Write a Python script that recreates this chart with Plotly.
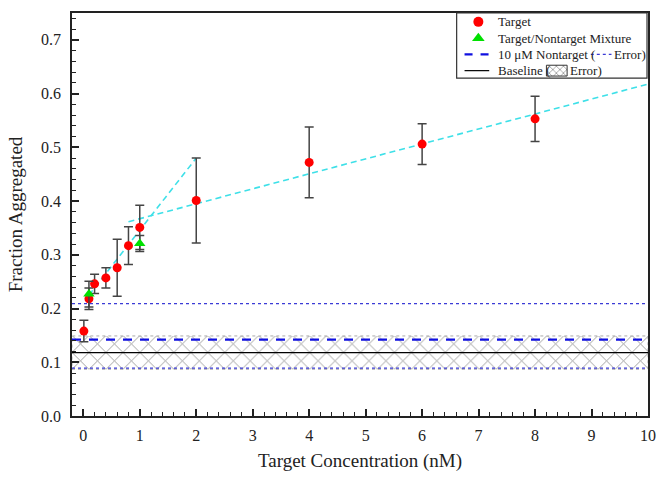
import plotly.graph_objects as go

# ---- data ----
target_x = [0.01, 0.1, 0.2, 0.4, 0.6, 0.8, 1, 2, 4, 6, 8]
target_y = [0.158, 0.218, 0.246, 0.257, 0.276, 0.317, 0.351, 0.401, 0.472, 0.506, 0.553]
target_err = [0.02, 0.02, 0.018, 0.019, 0.053, 0.035, 0.041, 0.079, 0.066, 0.038, 0.042]

mix_x = [0.1, 1]
mix_y = [0.227, 0.321]
mix_err = [0.024, 0.015]

nontarget_level = 0.142
nontarget_err_lo = 0.089
nontarget_err_hi = 0.209

baseline_level = 0.118
baseline_err = 0.031

fit1_x = [0.1, 2]
fit1_y = [0.225, 0.48]
fit2_x = [0.8, 10]
fit2_y = [0.3616, 0.6177]

x_span = [-0.2, 10]
y_span = [0, 0.75]

legend_labels = ["Target", "Target/Nontarget Mixture",
                 "10 μM Nontarget (", "Error)", "Baseline (", "Error)"]

SERIF = "Liberation Serif, Times New Roman, serif"

W, H = 665, 477
ML, MR, MT, MB = 72, 9, 13, 55
PW, PH = W - ML - MR, H - MT - MB


def pu(px):  # pixel x -> paper x
    return (px - ML) / PW


def pv(py):  # pixel y -> paper y
    return (H - MB - py) / PH


fig = go.Figure()

# baseline error band (cross-hatched)
fig.add_trace(go.Scatter(
    x=[x_span[0], x_span[1], x_span[1], x_span[0], x_span[0]],
    y=[baseline_level - baseline_err, baseline_level - baseline_err,
       baseline_level + baseline_err, baseline_level + baseline_err,
       baseline_level - baseline_err],
    mode="lines", fill="toself", fillcolor="rgba(0,0,0,0)",
    line=dict(color="rgba(150,150,150,0.8)", width=1, dash="dot"),
    fillpattern=dict(shape="x", fgcolor="#1a1a1a", bgcolor="rgba(255,255,255,0)",
                     size=12, solidity=0.13),
    showlegend=False, hoverinfo="skip"))

# nontarget error lines (dotted)
for lvl in [nontarget_err_lo, nontarget_err_hi]:
    fig.add_trace(go.Scatter(
        x=x_span, y=[lvl, lvl], mode="lines",
        line=dict(color="#3b3bd6", width=1.2, dash="dot"),
        showlegend=False, hoverinfo="skip"))

# baseline line
fig.add_trace(go.Scatter(
    x=x_span, y=[baseline_level, baseline_level], mode="lines",
    line=dict(color="black", width=1.2), showlegend=False, hoverinfo="skip"))

# nontarget dashed line
fig.add_trace(go.Scatter(
    x=x_span, y=[nontarget_level, nontarget_level], mode="lines",
    line=dict(color="#1010e0", width=2.2, dash="9px,8px"),
    showlegend=False, hoverinfo="skip"))

# fit lines (cyan dashed)
for fx, fy in [(fit1_x, fit1_y), (fit2_x, fit2_y)]:
    fig.add_trace(go.Scatter(
        x=fx, y=fy, mode="lines",
        line=dict(color="#3ee0e8", width=1.6, dash="6px,4px"),
        showlegend=False, hoverinfo="skip"))

# target points
fig.add_trace(go.Scatter(
    x=target_x, y=target_y, mode="markers",
    marker=dict(color="#ff0000", size=9, symbol="circle"),
    error_y=dict(type="data", array=target_err, color="#444444", thickness=1.5, width=4.5),
    showlegend=False))

# mixture points
fig.add_trace(go.Scatter(
    x=mix_x, y=mix_y, mode="markers",
    marker=dict(color="#00e000", size=10, symbol="triangle-up"),
    error_y=dict(type="data", array=mix_err, color="#444444", thickness=1.5, width=4.5),
    showlegend=False))

# ---- custom legend (on an overlay axis in paper units) ----
rows = [22, 38.5, 55, 71.5]
sym_x0, sym_x1, sym_c = 470, 495, 484
text_x = 502

leg = dict(xaxis="x2", yaxis="y2", showlegend=False, hoverinfo="skip", cliponaxis=False)
fig.add_trace(go.Scatter(x=[pu(sym_c)], y=[pv(rows[0])], mode="markers",
                         marker=dict(color="#ff0000", size=10), **leg))
fig.add_trace(go.Scatter(x=[pu(sym_c)], y=[pv(rows[1])], mode="markers",
                         marker=dict(color="#00e000", size=11, symbol="triangle-up"), **leg))
fig.add_trace(go.Scatter(x=[pu(sym_x0), pu(sym_x1)], y=[pv(rows[2])] * 2, mode="lines",
                         line=dict(color="#1010e0", width=2.2, dash="8px,8px"), **leg))
fig.add_trace(go.Scatter(x=[pu(598), pu(619)], y=[pv(rows[2])] * 2, mode="lines",
                         line=dict(color="#3b3bd6", width=1.1, dash="dot"), **leg))
fig.add_trace(go.Scatter(x=[pu(sym_x0), pu(sym_x1)], y=[pv(rows[3])] * 2, mode="lines",
                         line=dict(color="black", width=1.2), **leg))
bx0, bx1, by0, by1 = 553, 574, 66, 77
fig.add_trace(go.Scatter(
    x=[pu(bx0), pu(bx1), pu(bx1), pu(bx0), pu(bx0)],
    y=[pv(by0), pv(by0), pv(by1), pv(by1), pv(by0)],
    mode="lines", fill="toself", fillcolor="rgba(0,0,0,0)",
    line=dict(color="#333333", width=1),
    fillpattern=dict(shape="x", fgcolor="#333333", bgcolor="white", size=5, solidity=0.3),
    **leg))

ann_font = dict(family=SERIF, size=13, color="#222222")
ann_pos = [(text_x, rows[0]), (text_x, rows[1]), (text_x, rows[2]),
           (620, rows[2]), (text_x, rows[3]), (575, rows[3])]
annotations = [
    dict(x=pu(ax), y=pv(ay), xref="paper", yref="paper", text=t, showarrow=False,
         xanchor="left", yanchor="middle", font=ann_font)
    for t, (ax, ay) in zip(legend_labels, ann_pos)
]

fig.update_layout(
    width=W, height=H,
    margin=dict(l=ML, r=MR, t=MT, b=MB),
    paper_bgcolor="white", plot_bgcolor="white",
    font=dict(family=SERIF, color="#222222", size=14),
    showlegend=False,
    annotations=annotations,
    shapes=[dict(type="rect", xref="paper", yref="paper",
                 x0=pu(462), x1=pu(655), y0=pv(79), y1=pv(13),
                 line=dict(color="#333333", width=1.2), fillcolor="rgba(0,0,0,0)",
                 layer="above")],
    xaxis2=dict(overlaying="x", range=[0, 1], visible=False, fixedrange=True),
    yaxis2=dict(overlaying="y", range=[0, 1], visible=False, fixedrange=True),
    xaxis=dict(
        range=x_span, tickmode="linear", tick0=0, dtick=1,
        ticks="inside", ticklen=7, tickwidth=1.5, tickcolor="#222222",
        minor=dict(ticks="inside", ticklen=4, dtick=0.2, tick0=0, tickcolor="#222222", tickwidth=1.2),
        showline=True, linecolor="#222222", linewidth=1.5, mirror=True,
        showgrid=False, zeroline=False, ticklabelstandoff=4,
        tickfont=dict(family=SERIF, size=16),
        title=dict(text="Target Concentration (nM)", font=dict(family=SERIF, size=19), standoff=11),
    ),
    yaxis=dict(
        range=y_span, tickmode="linear", tick0=0, dtick=0.1, tickformat=".1f",
        ticks="inside", ticklen=7, tickwidth=1.5, tickcolor="#222222",
        minor=dict(ticks="inside", ticklen=4, dtick=0.02, tick0=0, tickcolor="#222222", tickwidth=1.2),
        showline=True, linecolor="#222222", linewidth=1.5, mirror=True,
        showgrid=False, zeroline=False, ticklabelstandoff=6,
        tickfont=dict(family=SERIF, size=16),
        title=dict(text="Fraction Aggregated", font=dict(family=SERIF, size=19), standoff=13),
    ),
)

fig.write_html("out.html", config={"displayModeBar": False},
               post_script="document.body.style.margin='0';")
